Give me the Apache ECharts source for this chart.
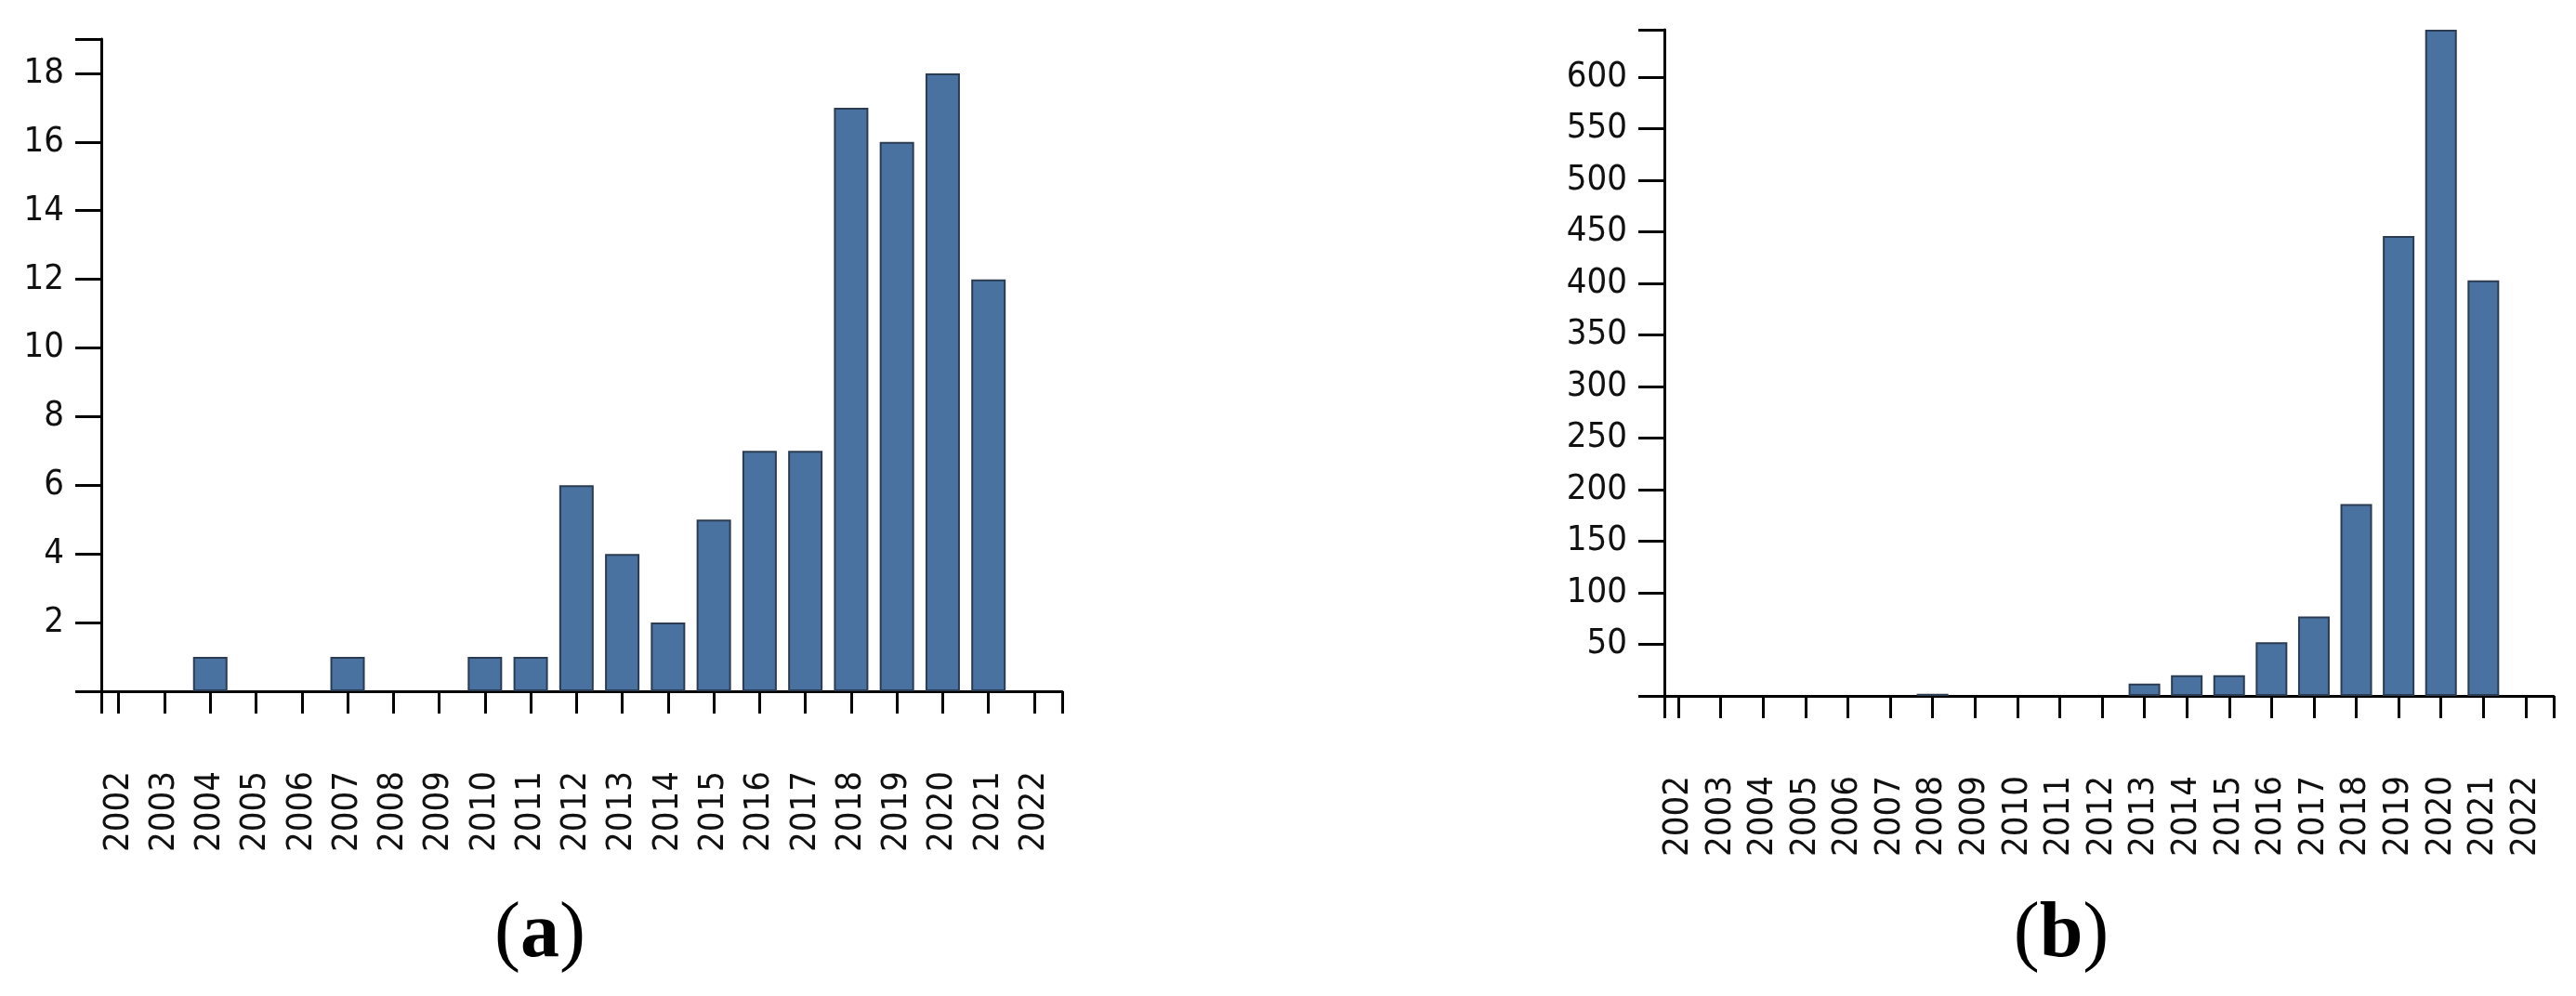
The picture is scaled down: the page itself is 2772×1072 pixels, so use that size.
<!DOCTYPE html>
<html><head><meta charset="utf-8">
<script src="https://cdn.jsdelivr.net/npm/echarts@6/dist/echarts.min.js"></script>
<style>html,body{margin:0;padding:0;background:#fff}#c{width:2772px;height:1072px}</style>
</head><body><div id="c"></div>
<script>
// Data
const years = [2002,2003,2004,2005,2006,2007,2008,2009,2010,2011,2012,2013,2014,2015,2016,2017,2018,2019,2020,2021,2022];
const countA = [0,0,1,0,0,1,0,0,1,1,6,4,2,5,7,7,17,16,18,12,0];
const countB = [0,0,0,0,0,0,2,0,0,0,0,12,20,20,52,77,186,446,646,403,0];
const yMaxA = 19, yStepA = 2;
const yMaxB = 646, yStepB = 50;
const panelLabels = ['a', 'b'];

const FONT = "'DejaVu Sans Condensed', 'DejaVu Sans', sans-serif";
const BAR = '#4a72a0', BAR_EDGE = '#2b3c52';

function xAxis(gridIndex, min, max) {
  return {
    type: 'value', gridIndex, min, max, splitNumber: 21, minInterval: 1, maxInterval: 1,
    axisLine: {show: true, onZero: false, lineStyle: {color: '#000', width: 3}},
    axisTick: {show: true, length: 24, lineStyle: {color: '#000', width: 3}},
    splitLine: {show: false},
    axisLabel: {
      rotate: 90, margin: 86, fontSize: 38, fontFamily: FONT, color: '#111',
      showMinLabel: true, showMaxLabel: true,
      formatter: v => Math.abs(v - Math.round(v)) < 1e-6 ? String(Math.round(v)) : ''
    }
  };
}
function yAxis(gridIndex, max, step) {
  return {
    type: 'value', gridIndex, min: 0, max, interval: step,
    axisLine: {show: true, lineStyle: {color: '#000', width: 3}},
    axisTick: {show: true, length: 28, lineStyle: {color: '#000', width: 3}},
    splitLine: {show: false},
    axisLabel: {
      margin: 40, fontSize: 38, fontFamily: FONT, color: '#111',
      formatter: v => (v === 0 || v === max) ? '' : String(v)
    }
  };
}
function panelTitle(letter, x) {
  return {
    text: '{p|(}{b|' + letter + '}{p|)}', left: x, top: 962, textAlign: 'center', padding: 0,
    textStyle: {
      fontWeight: 'normal',
      rich: {
        p: {fontFamily: "'Liberation Serif', serif", fontSize: 84, fontWeight: 'normal', color: '#000', lineHeight: 90},
        b: {fontFamily: "'Liberation Serif', serif", fontSize: 84, fontWeight: 'bold', color: '#000', lineHeight: 90}
      }
    }
  };
}
const toBars = (vals) => years.map((y, i) => [y, vals[i] === 0 ? '-' : vals[i]]);

const chart = echarts.init(document.getElementById('c'), null, {renderer: 'canvas'});
chart.setOption({
  backgroundColor: '#fff',
  animation: false,
  title: [panelTitle(panelLabels[0], 581), panelTitle(panelLabels[1], 2218)],
  grid: [
    {left: 109, right: 2772 - 1143, top: 42, bottom: 1072 - 744, containLabel: false},
    {left: 1791, right: 2772 - 2748, top: 32, bottom: 1072 - 749, containLabel: false}
  ],
  xAxis: [xAxis(0, 2001.62, 2022.61), xAxis(1, 2001.67, 2022.66)],
  yAxis: [yAxis(0, yMaxA, yStepA), yAxis(1, yMaxB, yStepB)],
  series: [
    {type: 'bar', xAxisIndex: 0, yAxisIndex: 0, barWidth: 37,
     itemStyle: {color: BAR, borderColor: BAR_EDGE, borderWidth: 2},
     data: toBars(countA)},
    {type: 'bar', xAxisIndex: 1, yAxisIndex: 1, barWidth: 34,
     itemStyle: {color: BAR, borderColor: BAR_EDGE, borderWidth: 2},
     data: toBars(countB)}
  ]
});
</script></body></html>
